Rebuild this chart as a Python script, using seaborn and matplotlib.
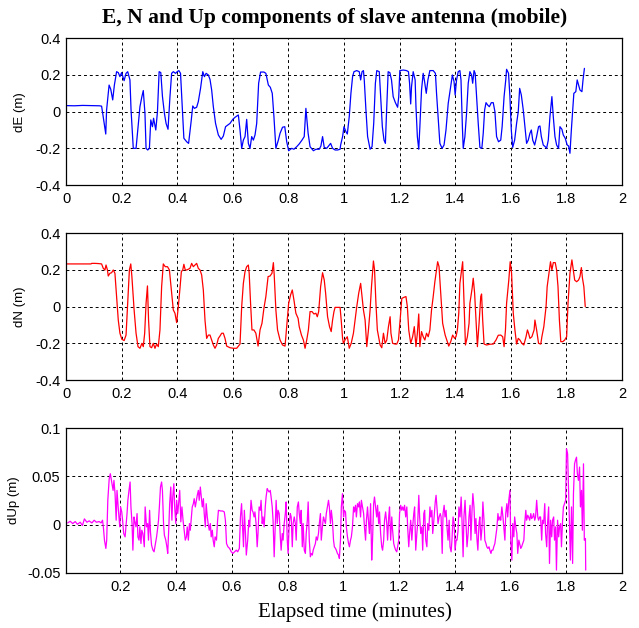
import numpy as np
import pandas as pd
import matplotlib
matplotlib.use("Agg")
import matplotlib.pyplot as plt
import seaborn as sns

# ---------------- data: elapsed time (minutes) and antenna offsets (m) ----------------
e_time = [0.0, 0.03, 0.06, 0.09, 0.12, 0.128, 0.132, 0.143, 0.146, 0.155, 0.161, 0.168, 0.174,
          0.182, 0.188, 0.194, 0.200, 0.209, 0.216, 0.222, 0.230, 0.234, 0.242, 0.252, 0.258,
          0.266, 0.273, 0.278, 0.284, 0.288, 0.294, 0.300, 0.305, 0.311, 0.315, 0.323, 0.329,
          0.335, 0.341, 0.347, 0.354, 0.360, 0.367, 0.374, 0.380, 0.386, 0.394, 0.400, 0.406,
          0.412, 0.418, 0.424, 0.434, 0.441, 0.450, 0.456, 0.462, 0.470, 0.476, 0.484, 0.492,
          0.498, 0.504, 0.512, 0.518, 0.524, 0.530, 0.538, 0.548, 0.558, 0.566, 0.574, 0.582,
          0.590, 0.600, 0.608, 0.620, 0.626, 0.632, 0.638, 0.644, 0.650, 0.656, 0.662, 0.668,
          0.674, 0.680, 0.686, 0.693, 0.700, 0.712, 0.719, 0.728, 0.735, 0.742, 0.748, 0.755,
          0.764, 0.770, 0.779, 0.787, 0.794, 0.801, 0.812, 0.820, 0.830, 0.839, 0.849, 0.857,
          0.863, 0.871, 0.878, 0.890, 0.899, 0.911, 0.917, 0.923, 0.929, 0.938, 0.947, 0.952,
          0.959, 0.968, 0.977, 0.986, 0.988, 0.995, 1.000, 1.007, 1.012, 1.019, 1.025, 1.031,
          1.036, 1.046, 1.055, 1.060, 1.065, 1.070, 1.073, 1.079, 1.085, 1.094, 1.101, 1.107,
          1.113, 1.118, 1.127, 1.132, 1.138, 1.144, 1.149, 1.153, 1.159, 1.165, 1.171, 1.177,
          1.185, 1.193, 1.197, 1.201, 1.213, 1.225, 1.232, 1.236, 1.240, 1.243, 1.249, 1.256,
          1.259, 1.264, 1.269, 1.273, 1.279, 1.285, 1.290, 1.296, 1.302, 1.309, 1.321, 1.329,
          1.333, 1.340, 1.345, 1.353, 1.360, 1.367, 1.375, 1.384, 1.390, 1.396, 1.400, 1.405,
          1.411, 1.417, 1.421, 1.426, 1.429, 1.435, 1.441, 1.447, 1.453, 1.459, 1.463, 1.468,
          1.472, 1.477, 1.483, 1.489, 1.496, 1.501, 1.506, 1.511, 1.517, 1.523, 1.530, 1.537,
          1.543, 1.549, 1.556, 1.564, 1.569, 1.576, 1.582, 1.585, 1.592, 1.597, 1.602, 1.607,
          1.614, 1.621, 1.627, 1.632, 1.638, 1.645, 1.652, 1.657, 1.663, 1.669, 1.674, 1.679,
          1.686, 1.693, 1.700, 1.705, 1.710, 1.717, 1.724, 1.729, 1.735, 1.741, 1.748, 1.753,
          1.759, 1.765, 1.772, 1.777, 1.784, 1.789, 1.796, 1.803, 1.808, 1.813, 1.818, 1.823,
          1.827, 1.834, 1.839, 1.844, 1.849, 1.856, 1.860, 1.865]
e_values = [0.033, 0.032, 0.034, 0.033, 0.032, 0.030, -0.009, -0.122, 0.009, 0.145, 0.122,
            0.064, 0.145, 0.218, 0.213, 0.191, 0.213, 0.169, 0.209, 0.218, 0.173, 0.009, -0.200,
            -0.200, -0.100, 0.027, 0.082, 0.115, -0.009, -0.200, -0.209, -0.200, -0.045, -0.082,
            -0.036, -0.100, 0.000, 0.218, 0.213, 0.082, -0.009, -0.064, -0.096, 0.082, 0.209,
            0.218, 0.209, 0.218, 0.224, 0.209, 0.027, -0.145, -0.164, -0.173, -0.055, 0.031,
            0.018, 0.024, 0.055, 0.127, 0.218, 0.191, 0.209, 0.200, 0.176, 0.118, 0.027, -0.064,
            -0.127, -0.151, -0.133, -0.082, -0.073, -0.064, -0.042, -0.031, -0.018, -0.100,
            -0.200, -0.155, -0.136, -0.042, -0.173, -0.200, -0.136, -0.155, -0.127, -0.064,
            0.155, 0.216, 0.216, 0.209, 0.145, 0.133, 0.100, -0.027, -0.200, -0.155, -0.118,
            -0.085, -0.082, -0.164, -0.213, -0.200, -0.205, -0.191, -0.176, -0.155, -0.136,
            0.018, -0.118, -0.191, -0.213, -0.205, -0.205, -0.187, -0.136, -0.195, -0.200,
            -0.182, -0.173, -0.200, -0.209, -0.209, -0.205, -0.182, -0.136, -0.082, -0.109,
            -0.122, -0.027, 0.100, 0.191, 0.218, 0.224, 0.218, 0.173, 0.218, 0.224, 0.173,
            0.009, -0.136, -0.205, -0.191, -0.064, 0.155, 0.224, 0.218, 0.082, -0.082, -0.155,
            -0.173, -0.009, 0.218, 0.213, 0.173, 0.082, 0.049, 0.024, 0.082, 0.224, 0.227,
            0.224, 0.218, 0.155, 0.042, 0.136, 0.218, 0.173, 0.027, -0.136, -0.205, -0.082,
            0.118, 0.209, 0.164, 0.100, 0.173, 0.224, 0.224, 0.209, 0.100, -0.064, -0.173,
            -0.200, -0.182, -0.100, 0.045, 0.136, 0.200, 0.164, 0.091, 0.173, 0.218, 0.224,
            0.173, -0.082, -0.200, -0.136, -0.009, 0.155, 0.218, 0.200, 0.155, 0.224, 0.209,
            0.082, -0.064, -0.195, -0.200, -0.118, 0.009, 0.049, 0.036, 0.027, 0.049, 0.049,
            0.000, -0.136, -0.164, -0.155, -0.082, 0.082, 0.173, 0.231, 0.209, 0.082, -0.100,
            -0.195, -0.155, -0.064, 0.000, 0.127, 0.091, 0.009, -0.100, -0.173, -0.155, -0.118,
            -0.100, -0.155, -0.182, -0.136, -0.082, -0.078, -0.136, -0.182, -0.191, -0.200,
            -0.155, -0.027, 0.082, -0.027, -0.136, -0.182, -0.200, -0.082, -0.096, -0.127,
            -0.145, -0.182, -0.187, -0.227, -0.100, 0.009, 0.100, 0.109, 0.173, 0.145, 0.118,
            0.109, 0.173, 0.236]

n_time = [0.0, 0.03, 0.06, 0.09, 0.092, 0.104, 0.116, 0.128, 0.134, 0.140, 0.144, 0.149,
          0.152, 0.158, 0.164, 0.170, 0.176, 0.182, 0.188, 0.194, 0.201, 0.209, 0.216, 0.222,
          0.228, 0.233, 0.237, 0.245, 0.252, 0.259, 0.266, 0.273, 0.278, 0.283, 0.288, 0.293,
          0.297, 0.302, 0.308, 0.314, 0.320, 0.326, 0.332, 0.338, 0.344, 0.350, 0.357, 0.365,
          0.372, 0.378, 0.386, 0.392, 0.398, 0.404, 0.410, 0.415, 0.420, 0.424, 0.429, 0.434,
          0.440, 0.446, 0.452, 0.458, 0.464, 0.470, 0.476, 0.482, 0.488, 0.494, 0.500, 0.506,
          0.512, 0.518, 0.524, 0.530, 0.536, 0.542, 0.548, 0.554, 0.560, 0.566, 0.572, 0.578,
          0.590, 0.602, 0.614, 0.626, 0.632, 0.638, 0.644, 0.650, 0.656, 0.659, 0.664, 0.669,
          0.676, 0.683, 0.691, 0.698, 0.705, 0.712, 0.719, 0.727, 0.734, 0.741, 0.746, 0.749,
          0.755, 0.761, 0.770, 0.779, 0.788, 0.794, 0.801, 0.808, 0.814, 0.820, 0.827, 0.835,
          0.839, 0.847, 0.854, 0.860, 0.866, 0.872, 0.878, 0.885, 0.892, 0.899, 0.904, 0.909,
          0.916, 0.923, 0.929, 0.934, 0.941, 0.948, 0.954, 0.959, 0.964, 0.968, 0.976, 0.986,
          0.990, 0.995, 0.998, 1.005, 1.012, 1.019, 1.026, 1.034, 1.040, 1.046, 1.053, 1.060,
          1.065, 1.070, 1.076, 1.082, 1.088, 1.094, 1.099, 1.106, 1.110, 1.115, 1.120, 1.130,
          1.136, 1.142, 1.148, 1.154, 1.160, 1.166, 1.169, 1.175, 1.184, 1.190, 1.196, 1.202,
          1.208, 1.216, 1.223, 1.228, 1.233, 1.240, 1.247, 1.253, 1.259, 1.264, 1.269, 1.273,
          1.279, 1.285, 1.291, 1.297, 1.303, 1.309, 1.315, 1.321, 1.327, 1.333, 1.337, 1.342,
          1.348, 1.355, 1.364, 1.370, 1.377, 1.384, 1.391, 1.398, 1.403, 1.408, 1.413, 1.417,
          1.423, 1.427, 1.432, 1.437, 1.444, 1.450, 1.453, 1.461, 1.465, 1.470, 1.475, 1.480,
          1.486, 1.492, 1.495, 1.499, 1.504, 1.513, 1.525, 1.537, 1.547, 1.555, 1.564, 1.571,
          1.576, 1.581, 1.585, 1.593, 1.598, 1.603, 1.609, 1.615, 1.621, 1.627, 1.633, 1.640,
          1.647, 1.655, 1.660, 1.664, 1.669, 1.676, 1.684, 1.687, 1.693, 1.700, 1.708, 1.712,
          1.719, 1.727, 1.731, 1.739, 1.743, 1.748, 1.753, 1.760, 1.765, 1.770, 1.775, 1.780,
          1.787, 1.794, 1.801, 1.806, 1.813, 1.820, 1.825, 1.830, 1.837, 1.844, 1.849, 1.854,
          1.858, 1.863, 1.868]
n_values = [0.233, 0.233, 0.233, 0.233, 0.236, 0.236, 0.235, 0.233, 0.209, 0.200, 0.227,
            0.200, 0.167, 0.182, 0.185, 0.200, 0.182, 0.055, -0.073, -0.145, -0.178, -0.185,
            -0.155, 0.018, 0.200, 0.233, 0.164, -0.018, -0.145, -0.218, -0.227, -0.200,
            -0.218, -0.145, 0.018, 0.113, -0.073, -0.218, -0.224, -0.200, -0.227, -0.204,
            -0.218, -0.127, 0.109, 0.233, 0.218, 0.218, 0.200, 0.109, -0.018, -0.036, -0.087,
            0.000, 0.100, 0.191, 0.200, 0.231, 0.200, 0.200, 0.204, 0.209, 0.236, 0.218, 0.227,
            0.236, 0.209, 0.200, 0.173, 0.091, -0.073, -0.173, -0.155, -0.155, -0.182, -0.209,
            -0.227, -0.209, -0.173, -0.160, -0.145, -0.145, -0.173, -0.215, -0.224, -0.227,
            -0.227, -0.204, 0.000, 0.127, 0.191, 0.218, 0.227, 0.182, 0.018, -0.127, -0.127,
            -0.145, -0.215, -0.127, -0.091, -0.009, 0.055, 0.164, 0.167, 0.182, 0.240, 0.173,
            -0.018, -0.127, -0.182, -0.209, -0.215, -0.109, 0.018, 0.064, 0.091, 0.036, -0.036,
            -0.064, -0.109, -0.155, -0.182, -0.227, -0.182, -0.127, -0.027, -0.027, -0.040,
            -0.036, -0.055, -0.027, 0.109, 0.185, 0.145, 0.073, -0.055, -0.109, -0.136, -0.073,
            -0.027, -0.004, -0.004, -0.004, -0.073, -0.173, -0.200, -0.178, -0.164, -0.227,
            -0.200, -0.145, -0.073, 0.000, 0.073, 0.127, 0.055, -0.018, -0.073, -0.218, -0.127,
            -0.018, 0.109, 0.249, 0.200, 0.018, -0.127, -0.209, -0.224, -0.145, -0.200, -0.182,
            -0.109, -0.055, -0.145, -0.200, -0.204, -0.204, -0.182, -0.073, 0.045, 0.051, 0.055,
            0.000, -0.127, -0.200, -0.164, -0.109, -0.218, -0.145, -0.040, -0.218, -0.136,
            -0.164, -0.182, -0.145, -0.164, -0.127, -0.018, 0.055, 0.136, 0.200, 0.245, 0.218,
            0.073, -0.091, -0.155, -0.182, -0.215, -0.191, -0.155, -0.173, -0.164, -0.127,
            -0.036, 0.127, 0.200, 0.245, 0.018, -0.209, -0.164, -0.091, 0.018, 0.100, 0.155,
            0.073, -0.073, -0.218, -0.091, 0.055, 0.069, -0.073, -0.204, -0.209, -0.205, -0.204,
            -0.182, -0.156, -0.155, -0.164, -0.218, -0.127, 0.018, 0.145, 0.245, 0.182, -0.036,
            -0.127, -0.204, -0.173, -0.182, -0.200, -0.209, -0.164, -0.127, -0.145, -0.173,
            -0.164, -0.127, -0.073, -0.127, -0.200, -0.204, -0.164, -0.109, 0.000, 0.109, 0.200,
            0.245, 0.200, 0.240, 0.240, 0.200, 0.109, -0.073, -0.191, -0.191, -0.182, -0.164,
            0.018, 0.182, 0.255, 0.200, 0.145, 0.136, 0.145, 0.164, 0.213, 0.155, 0.109, 0.000]

up_time = [0.011, 0.020, 0.029, 0.038, 0.046, 0.056, 0.064, 0.071, 0.080, 0.088, 0.098, 0.106,
           0.114, 0.124, 0.131, 0.136, 0.139, 0.143, 0.148, 0.151, 0.155, 0.160, 0.164, 0.169,
           0.174, 0.177, 0.181, 0.185, 0.188, 0.193, 0.198, 0.201, 0.205, 0.208, 0.212, 0.217,
           0.220, 0.224, 0.227, 0.231, 0.235, 0.238, 0.242, 0.245, 0.249, 0.252, 0.256, 0.260,
           0.263, 0.267, 0.270, 0.274, 0.277, 0.281, 0.286, 0.289, 0.294, 0.298, 0.301, 0.305,
           0.308, 0.312, 0.317, 0.321, 0.326, 0.330, 0.333, 0.337, 0.340, 0.344, 0.348, 0.351,
           0.355, 0.358, 0.363, 0.367, 0.370, 0.374, 0.377, 0.381, 0.385, 0.388, 0.392, 0.395,
           0.399, 0.402, 0.406, 0.410, 0.413, 0.417, 0.421, 0.425, 0.429, 0.433, 0.437, 0.440,
           0.444, 0.448, 0.451, 0.455, 0.458, 0.462, 0.465, 0.469, 0.473, 0.476, 0.480, 0.483,
           0.487, 0.490, 0.494, 0.498, 0.501, 0.505, 0.508, 0.512, 0.515, 0.519, 0.523, 0.526,
           0.530, 0.533, 0.537, 0.540, 0.545, 0.549, 0.552, 0.560, 0.567, 0.573, 0.577, 0.581,
           0.586, 0.592, 0.598, 0.604, 0.610, 0.616, 0.621, 0.627, 0.631, 0.635, 0.638, 0.642,
           0.645, 0.649, 0.652, 0.657, 0.661, 0.664, 0.669, 0.673, 0.676, 0.680, 0.683, 0.687,
           0.691, 0.694, 0.698, 0.702, 0.705, 0.709, 0.712, 0.716, 0.720, 0.723, 0.727, 0.730,
           0.734, 0.738, 0.741, 0.745, 0.748, 0.752, 0.756, 0.759, 0.763, 0.766, 0.770, 0.774,
           0.777, 0.781, 0.784, 0.788, 0.792, 0.795, 0.799, 0.802, 0.806, 0.810, 0.813, 0.817,
           0.820, 0.824, 0.828, 0.831, 0.835, 0.839, 0.842, 0.846, 0.849, 0.853, 0.856, 0.860,
           0.864, 0.867, 0.871, 0.874, 0.878, 0.882, 0.885, 0.889, 0.892, 0.896, 0.900, 0.903,
           0.907, 0.911, 0.914, 0.918, 0.921, 0.925, 0.929, 0.932, 0.936, 0.939, 0.943, 0.947,
           0.950, 0.954, 0.957, 0.961, 0.965, 0.968, 0.972, 0.975, 0.979, 0.983, 0.986, 0.990,
           0.993, 0.997, 1.001, 1.004, 1.008, 1.011, 1.015, 1.019, 1.022, 1.026, 1.029, 1.033,
           1.037, 1.040, 1.044, 1.047, 1.051, 1.055, 1.058, 1.062, 1.065, 1.069, 1.073, 1.076,
           1.080, 1.083, 1.087, 1.091, 1.094, 1.098, 1.102, 1.105, 1.109, 1.112, 1.116, 1.120,
           1.123, 1.127, 1.130, 1.134, 1.138, 1.141, 1.145, 1.148, 1.152, 1.156, 1.159, 1.163,
           1.166, 1.170, 1.174, 1.177, 1.181, 1.184, 1.188, 1.192, 1.195, 1.199, 1.202, 1.206,
           1.210, 1.213, 1.217, 1.220, 1.224, 1.228, 1.231, 1.235, 1.238, 1.242, 1.246, 1.249,
           1.253, 1.256, 1.260, 1.264, 1.267, 1.271, 1.274, 1.278, 1.282, 1.285, 1.289, 1.292,
           1.296, 1.300, 1.303, 1.307, 1.311, 1.314, 1.318, 1.321, 1.326, 1.330, 1.333, 1.337,
           1.340, 1.344, 1.348, 1.351, 1.355, 1.358, 1.362, 1.365, 1.369, 1.373, 1.376, 1.380,
           1.383, 1.387, 1.390, 1.394, 1.398, 1.401, 1.405, 1.408, 1.412, 1.415, 1.419, 1.423,
           1.426, 1.430, 1.433, 1.437, 1.440, 1.444, 1.448, 1.451, 1.455, 1.458, 1.462, 1.465,
           1.469, 1.473, 1.476, 1.480, 1.483, 1.487, 1.490, 1.494, 1.498, 1.501, 1.505, 1.508,
           1.512, 1.515, 1.519, 1.523, 1.526, 1.530, 1.533, 1.537, 1.540, 1.544, 1.548, 1.551,
           1.555, 1.558, 1.562, 1.565, 1.569, 1.573, 1.576, 1.580, 1.583, 1.587, 1.590, 1.594,
           1.598, 1.601, 1.605, 1.608, 1.612, 1.615, 1.619, 1.623, 1.626, 1.630, 1.633, 1.637,
           1.640, 1.644, 1.648, 1.651, 1.655, 1.658, 1.662, 1.665, 1.669, 1.673, 1.676, 1.680,
           1.683, 1.687, 1.690, 1.694, 1.698, 1.701, 1.705, 1.708, 1.712, 1.715, 1.719, 1.723,
           1.726, 1.730, 1.733, 1.737, 1.740, 1.744, 1.748, 1.751, 1.755, 1.758, 1.762, 1.765,
           1.769, 1.773, 1.776, 1.780, 1.783, 1.787, 1.790, 1.794, 1.798, 1.801, 1.805, 1.808,
           1.812, 1.815, 1.819, 1.823, 1.826, 1.830, 1.833, 1.837, 1.840, 1.844, 1.848, 1.851,
           1.855, 1.858, 1.862, 1.865, 1.869, 1.870]
up_values = [0.0017, 0.0034, 0.0010, 0.0031, 0.0003, 0.0024, -0.0010, 0.0059, 0.0024, 0.0038,
             0.0017, 0.0045, 0.0024, 0.0031, 0.0017, 0.0045, -0.0024, -0.0162, -0.0248, -0.0162,
             0.0252, 0.0476, 0.0528, 0.0442, 0.0355, 0.0459, 0.0321, 0.0045, 0.0355, 0.0148,
             -0.0024, 0.0183, 0.0131, 0.0045, -0.0093, -0.0128, -0.0024, 0.0114, 0.0252, 0.0355,
             0.0442, 0.0183, 0.0010, -0.0266, 0.0079, 0.0028, -0.0024, 0.0114, -0.0128, -0.0162,
             -0.0024, -0.0197, -0.0059, -0.0093, -0.0231, 0.0183, -0.0024, 0.0010, -0.0162,
             0.0148, -0.0076, -0.0214, -0.0266, -0.0283, -0.0197, -0.0128, -0.0059, 0.0045,
             0.0183, 0.0390, 0.0442, 0.0355, 0.0010, -0.0110, -0.0162, -0.0231, -0.0300, -0.0024,
             0.0217, 0.0390, 0.0045, 0.0286, 0.0424, 0.0183, 0.0010, 0.0252, 0.0114, 0.0252,
             0.0355, 0.0028, 0.0183, 0.0045, -0.0059, -0.0162, -0.0128, -0.0024, -0.0162, 0.0010,
             -0.0059, 0.0079, 0.0183, 0.0217, 0.0269, 0.0183, 0.0252, 0.0304, 0.0355, 0.0252,
             0.0390, 0.0304, 0.0183, 0.0269, 0.0114, -0.0024, 0.0217, 0.0079, 0.0010, -0.0059,
             0.0010, -0.0128, -0.0059, -0.0162, -0.0231, -0.0128, -0.0162, 0.0045, 0.0148,
             0.0141, 0.0141, 0.0131, 0.0045, -0.0197, -0.0231, -0.0248, -0.0283, -0.0300,
             -0.0283, -0.0266, -0.0283, -0.0248, 0.0079, 0.0217, 0.0010, -0.0231, 0.0148,
             -0.0093, -0.0317, -0.0162, 0.0045, -0.0024, 0.0252, 0.0148, 0.0131, 0.0079, 0.0131,
             0.0010, -0.0231, -0.0093, 0.0183, 0.0148, 0.0252, 0.0010, 0.0079, -0.0024, 0.0183,
             0.0286, 0.0373, 0.0355, 0.0338, 0.0355, 0.0286, 0.0183, 0.0045, -0.0335, 0.0010,
             0.0252, 0.0010, 0.0148, 0.0114, -0.0128, -0.0266, -0.0093, -0.0162, 0.0010, 0.0114,
             0.0235, -0.0162, -0.0300, 0.0010, 0.0114, 0.0079, -0.0231, 0.0010, 0.0079, 0.0010,
             -0.0162, 0.0183, 0.0235, 0.0114, 0.0010, 0.0148, -0.0231, 0.0010, -0.0266, -0.0300,
             -0.0093, 0.0045, 0.0235, -0.0162, -0.0335, -0.0300, -0.0317, -0.0266, -0.0231,
             -0.0197, -0.0128, -0.0162, -0.0093, 0.0010, 0.0114, -0.0162, -0.0024, 0.0079,
             0.0045, 0.0010, 0.0114, 0.0183, 0.0252, 0.0183, 0.0010, 0.0148, 0.0045, -0.0162,
             -0.0231, -0.0248, -0.0266, -0.0300, -0.0317, -0.0352, -0.0162, 0.0183, 0.0321,
             0.0079, 0.0148, 0.0131, -0.0024, -0.0128, -0.0197, -0.0231, -0.0162, -0.0128,
             -0.0024, 0.0183, 0.0131, 0.0200, 0.0079, 0.0217, 0.0183, 0.0235, 0.0079, 0.0252,
             0.0183, 0.0114, -0.0024, -0.0162, 0.0045, 0.0183, 0.0010, -0.0093, 0.0217, -0.0369,
             -0.0162, 0.0217, 0.0286, 0.0183, 0.0079, 0.0200, 0.0010, 0.0131, -0.0093, -0.0231,
             -0.0266, -0.0162, 0.0045, 0.0131, 0.0010, -0.0162, 0.0079, 0.0183, -0.0162, 0.0079,
             -0.0059, -0.0197, -0.0231, -0.0266, -0.0283, -0.0231, -0.0162, 0.0114, 0.0200,
             0.0148, 0.0183, 0.0148, 0.0200, 0.0079, 0.0183, -0.0024, -0.0231, -0.0093, 0.0045,
             -0.0162, -0.0024, 0.0114, 0.0183, -0.0266, -0.0093, 0.0010, 0.0304, 0.0079, -0.0093,
             -0.0024, -0.0266, 0.0114, 0.0148, -0.0162, -0.0231, 0.0010, -0.0059, 0.0183, 0.0079,
             0.0148, -0.0093, 0.0079, 0.0235, 0.0304, 0.0148, 0.0010, 0.0079, 0.0114, 0.0079,
             -0.0300, 0.0114, 0.0200, 0.0079, 0.0148, -0.0059, -0.0162, 0.0045, -0.0231, -0.0283,
             -0.0162, 0.0079, 0.0010, -0.0266, -0.0162, -0.0162, -0.0059, 0.0183, 0.0079, 0.0286,
             0.0045, -0.0335, 0.0079, 0.0252, 0.0045, -0.0231, -0.0093, 0.0079, 0.0200, -0.0162,
             0.0148, 0.0321, 0.0183, -0.0093, 0.0062, -0.0162, -0.0266, 0.0010, 0.0079, -0.0162,
             -0.0024, 0.0235, 0.0045, -0.0162, -0.0197, -0.0231, -0.0248, -0.0231, -0.0266,
             -0.0300, -0.0266, -0.0266, -0.0231, -0.0197, -0.0110, -0.0041, 0.0114, 0.0045,
             0.0079, 0.0045, 0.0183, 0.0079, -0.0024, -0.0162, 0.0114, 0.0217, 0.0079, 0.0252,
             0.0355, -0.0162, -0.0369, 0.0010, -0.0128, 0.0079, -0.0024, -0.0093, -0.0300,
             -0.0162, -0.0197, -0.0248, -0.0231, -0.0197, -0.0162, 0.0010, 0.0148, 0.0045,
             0.0097, 0.0079, 0.0045, 0.0114, 0.0062, 0.0079, 0.0114, 0.0045, 0.0079, 0.0252,
             0.0079, 0.0045, 0.0079, 0.0079, -0.0162, 0.0045, 0.0010, 0.0217, -0.0093, -0.0231,
             0.0010, 0.0183, -0.0404, 0.0045, -0.0128, 0.0045, 0.0079, -0.0162, -0.0024, -0.0473,
             0.0045, -0.0128, -0.0024, 0.0010, -0.0231, 0.0045, 0.0183, 0.0217, 0.0252, 0.0787,
             0.0735, 0.0424, -0.0024, -0.0369, 0.0183, -0.0404, 0.0321, 0.0631, 0.0666, 0.0700,
             0.0528, 0.0459, 0.0597, 0.0183, 0.0355, -0.0059, 0.0631, -0.0162, -0.0145, -0.0473]

e_ticks = [-0.4, -0.2, 0.0, 0.2, 0.4]
e_tick_labels = ["-0.4", "-0.2", "0", "0.2", "0.4"]
up_ticks = [-0.05, 0.0, 0.05, 0.1]
up_tick_labels = ["-0.05", "0", "0.05", "0.1"]
x_ticks = [0, 0.2, 0.4, 0.6, 0.8, 1.0, 1.2, 1.4, 1.6, 1.8, 2.0]
x_tick_labels = ["0", "0.2", "0.4", "0.6", "0.8", "1", "1.2", "1.4", "1.6", "1.8", "2"]

title_text = "E, N and Up components of slave antenna (mobile)"
xlabel_text = "Elapsed time (minutes)"

# ---------------- figure ----------------
sns.set_style("white")
plt.rcParams["font.family"] = ["Liberation Sans", "DejaVu Sans"]
plt.rcParams["text.color"] = "black"
plt.rcParams["axes.labelcolor"] = "black"

fig = plt.figure(figsize=(6.39, 6.28), dpi=100)
fig.patch.set_facecolor("white")

left, width = 0.1033, 0.870
ax_e = fig.add_axes([left, 0.7054, width, 0.2336])
ax_n = fig.add_axes([left, 0.3949, width, 0.2336])
ax_u = fig.add_axes([left, 0.0881, width, 0.2299])

df_e = pd.DataFrame({"t": e_time, "v": e_values})
df_n = pd.DataFrame({"t": n_time, "v": n_values})
df_u = pd.DataFrame({"t": up_time, "v": up_values})

sns.lineplot(data=df_e, x="t", y="v", ax=ax_e, color="#0000ff", lw=0.9,
             estimator=None, sort=False)
sns.lineplot(data=df_n, x="t", y="v", ax=ax_n, color="#ff0000", lw=0.9,
             estimator=None, sort=False)
sns.lineplot(data=df_u, x="t", y="v", ax=ax_u, color="#ff00ff", lw=0.9,
             estimator=None, sort=False)

panels = [
    (ax_e, "dE (m)", (-0.4, 0.4), e_ticks, e_tick_labels, (0, 2), -0.072),
    (ax_n, "dN (m)", (-0.4, 0.4), e_ticks, e_tick_labels, (0, 2), -0.072),
    (ax_u, "dUp (m)", (-0.05, 0.1), up_ticks, up_tick_labels, (0.005, 2), -0.083),
]

for ax, ylab, ylim, yt, ytl, xlim, lab_x in panels:
    ax.set_xlim(*xlim)
    ax.set_ylim(*ylim)
    ax.set_yticks(yt)
    ax.set_yticklabels(ytl)
    xt = [v for v in x_ticks if xlim[0] <= v <= xlim[1]]
    xtl = [l for v, l in zip(x_ticks, x_tick_labels) if xlim[0] <= v <= xlim[1]]
    ax.set_xticks(xt)
    ax.set_xticklabels(xtl)
    ax.set_xlabel("")
    ax.set_ylabel(ylab, fontsize=9.5, color="black")
    ax.yaxis.set_label_coords(lab_x, 0.5)
    ax.grid(True, color="black", linestyle=(0, (3, 3)), linewidth=0.7)
    ax.set_axisbelow(True)
    ax.tick_params(axis="both", direction="in", length=3, width=0.7,
                   labelsize=10.5, colors="black", pad=4)
    ax.tick_params(axis="x", pad=5)
    for s in ax.spines.values():
        s.set_visible(True)
        s.set_color("black")
        s.set_linewidth(0.9)

fig.text(0.523, 0.972, title_text, ha="center", va="center", color="black",
         fontsize=15.5, fontweight="bold", family=["Liberation Serif", "DejaVu Serif"])
fig.text(0.556, 0.026, xlabel_text, ha="center", va="center", color="black",
         fontsize=15, family=["Liberation Serif", "DejaVu Serif"])

fig.savefig("out.png", dpi=100, facecolor="white")
